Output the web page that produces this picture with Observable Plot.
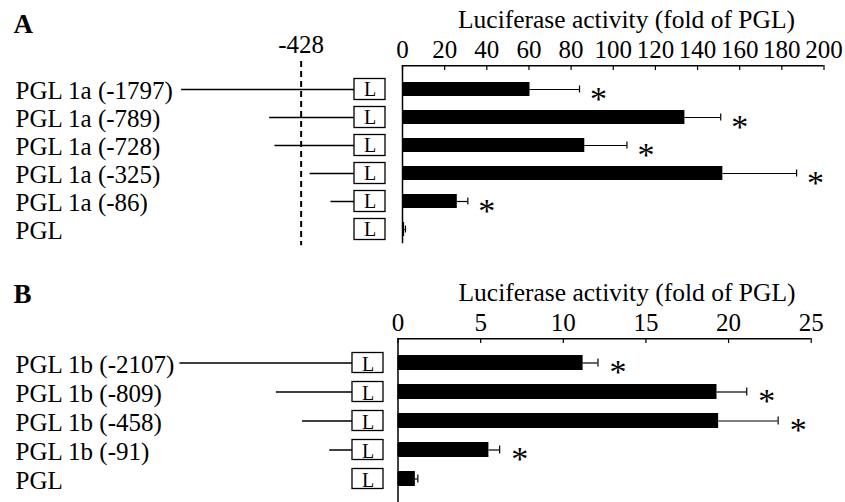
<!DOCTYPE html>
<html><head><meta charset="utf-8">
<script src="https://cdn.jsdelivr.net/npm/d3@7"></script>
<script src="https://cdn.jsdelivr.net/npm/@observablehq/plot@0.6"></script>
<style>
html,body{margin:0;padding:0;background:#fff;}
#chart{position:relative;width:845px;height:502px;overflow:hidden;}
#chart svg{position:absolute;left:0;top:0;background:transparent !important;}
</style></head><body><div id="chart"></div>
<script>
// ---------- Panel A data ----------
const namesA = ["PGL 1a (-1797)", "PGL 1a (-789)", "PGL 1a (-728)", "PGL 1a (-325)", "PGL 1a (-86)", "PGL"];
const lengthsA = [1797, 789, 728, 325, 86, 0];           // promoter length (bp upstream)
const valuesA = [60.5, 134, 86.5, 152, 26, 1];           // fold of PGL
const errorsA = [23.5, 17, 20, 35, 5, 0.4];
const sigA = [true, true, true, true, true, false];
const markerA = [-428];
const ticksA = [0, 20, 40, 60, 80, 100, 120, 140, 160, 180, 200];

// ---------- Panel B data ----------
const namesB = ["PGL 1b (-2107)", "PGL 1b (-809)", "PGL 1b (-458)", "PGL 1b (-91)", "PGL"];
const lengthsB = [2107, 809, 458, 91, 0];
const valuesB = [11.2, 19.3, 19.4, 5.5, 1.05];
const errorsB = [0.9, 1.8, 3.6, 0.65, 0.15];
const sigB = [true, true, true, true, false];
const markerB = [];
const ticksB = [0, 5, 10, 15, 20, 25];

const xTitle = "Luciferase activity (fold of PGL)";
const panelLetters = ["A", "B"];

const W = 845, H = 502;
const FONT = "'Liberation Serif', 'Times New Roman', Times, serif";
const style = {fontFamily: FONT, fontSize: "25px", color: "black", background: "transparent", overflow: "visible"};

function rowsOf(names, lengths, values, errors, sig) {
  return names.map((name, i) => ({name, len: lengths[i], value: values[i], err: values[i] + errors[i], sig: sig[i]}));
}

function panel(rows, ticks, markers, letter, L) {
  const frameH = H - L.top - L.bottom;
  const yOpt = {domain: rows.map(d => d.name), paddingInner: 0.5, paddingOuter: L.po, axis: null};
  const xMax = ticks[ticks.length - 1];
  const bars = Plot.plot({
    width: W, height: H,
    marginTop: L.top, marginBottom: L.bottom, marginLeft: L.barLeft, marginRight: W - L.barRight,
    x: {domain: [0, xMax], axis: null},
    y: yOpt,
    style,
    marks: [
      Plot.barX([0], {x1: 0, x2: xMax, insetBottom: frameH - 1.5, fill: "black"}),
      Plot.ruleX(ticks, {x: d => d, insetBottom: frameH - 5, stroke: "black", strokeWidth: 1.2}),
      Plot.ruleX([0], {x: d => d, insetBottom: L.axisBottomInset, stroke: "black", strokeWidth: 1.5}),
      Plot.barX(rows, {x: "value", y: "name", fill: "black"}),
      Plot.ruleY(rows, {y: "name", x1: "value", x2: "err", stroke: "black", strokeWidth: 1.2}),
      Plot.tickX(rows, {x: "err", y: "name", insetTop: 3.5, insetBottom: 3.5, stroke: "black", strokeWidth: 1.2}),
      Plot.text(rows.filter(d => d.sig), {x: "err", y: "name", text: () => "*", dx: L.starDx, dy: 20, lineAnchor: "bottom", fontSize: 34}),
      Plot.text(ticks, {x: d => d, frameAnchor: "top", dy: -8, lineAnchor: "bottom", text: d => String(d), fontSize: 25}),
      Plot.text([xTitle], {frameAnchor: "top", dx: L.titleX - (L.barLeft + L.barRight) / 2, dy: L.titleBase - L.top, lineAnchor: "bottom", fontSize: 25.5})
    ]
  });
  const schem = Plot.plot({
    width: W, height: H,
    marginTop: L.top, marginBottom: L.bottom, marginLeft: L.x0 - L.slope * 2000, marginRight: W - L.x0,
    x: {domain: [-2000, 0], axis: null},
    y: yOpt,
    style,
    marks: [
      Plot.text([letter], {frameAnchor: "top-left", dx: 13 - (L.x0 - L.slope * 2000), dy: L.letterBase - L.top, textAnchor: "start", lineAnchor: "bottom", fontWeight: "bold", fontSize: 27}),
      Plot.text(rows, {y: "name", text: "name", frameAnchor: "left", dx: 15 - (L.x0 - L.slope * 2000), dy: L.labelDy, textAnchor: "start", lineAnchor: "bottom", fontSize: 25}),
      Plot.ruleX(markers, {x: d => d, insetTop: -4, insetBottom: 7, stroke: "black", strokeWidth: 2, strokeDasharray: "6,4"}),
      Plot.text(markers, {x: d => d, frameAnchor: "top", dy: -13, lineAnchor: "bottom", text: d => String(d), fontSize: 25}),
      Plot.ruleY(rows.filter(d => d.len > 0), {y: "name", x1: d => -d.len, x2: 0, insetRight: -16, stroke: "black", strokeWidth: 1.5}),
      Plot.barX(rows, {y: "name", x1: 0, x2: 0, insetLeft: 16, insetRight: -47, insetTop: L.boxInset, insetBottom: L.boxInset, fill: "white", stroke: "black", strokeWidth: 1.3}),
      Plot.text(rows, {y: "name", x: 0, dx: 31.5, dy: L.lDy, text: () => "L", lineAnchor: "bottom", fontSize: 20})
    ]
  });
  return [schem, bars];
}

const rowsA = rowsOf(namesA, lengthsA, valuesA, errorsA, sigA);
const rowsB = rowsOf(namesB, lengthsB, valuesB, errorsB, sigB);

const layoutA = {top: 65, bottom: H - 65 - 28.2 * 6.64, po: 0.57, barLeft: 402, barRight: 823.5, axisBottomInset: 9,
  starDx: 19, titleX: 626, titleBase: 27, x0: 338, slope: 0.0873, letterBase: 32, labelDy: 9.5, boxInset: -3.5, lDy: 6};
const layoutB = {top: 338, bottom: H - 338 - 29.8 * 5.5, po: 0.5, barLeft: 397.5, barRight: 810.7, axisBottomInset: 0,
  starDx: 20, titleX: 626.5, titleBase: 300, x0: 336, slope: 0.0743, letterBase: 302, labelDy: 10, boxInset: -2.5, lDy: 8};

const host = document.getElementById("chart");
for (const el of [...panel(rowsA, ticksA, markerA, panelLetters[0], layoutA), ...panel(rowsB, ticksB, markerB, panelLetters[1], layoutB)]) {
  host.appendChild(el);
}
</script>
</body></html>
